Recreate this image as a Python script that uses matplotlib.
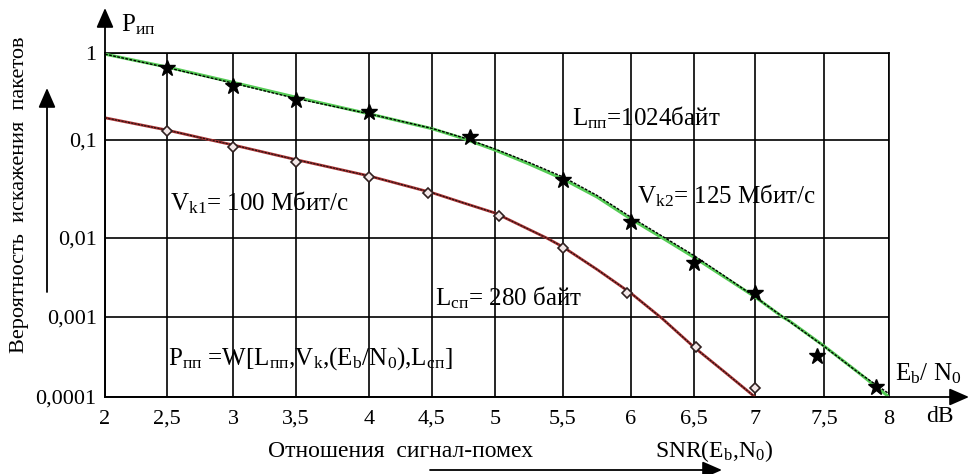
import numpy as np
import matplotlib
matplotlib.use("Agg")
import matplotlib.pyplot as plt
from matplotlib.ticker import FixedLocator, NullLocator

# --- values ---
x_ticks = [2, 2.5, 3, 3.5, 4, 4.5, 5, 5.5, 6, 6.5, 7, 7.5, 8]
x_tick_labels = ["2", "2,5", "3", "3,5", "4", "4,5", "5", "5,5", "6", "6,5", "7", "7,5", "8"]
y_ticks = [0.0001, 0.001, 0.01, 0.1, 1]
y_tick_labels = ["0,0001", "0,001", "0,01", "0,1", "1"]

# Vk2 = 125 Мбит/с (upper curve)
snr_meas2 = [2.5, 3, 3.5, 4, 4.8, 5.5, 6, 6.5, 7, 7.45, 7.9]
p_meas2 = [0.67, 0.42, 0.29, 0.21, 0.108, 0.039, 0.0146, 0.0048, 0.0020, 0.00033, 0.000133]
snr_fit2 = [2, 2.5, 3, 3.5, 4, 4.5, 4.75, 5, 5.25, 5.5, 5.75, 6, 6.25, 6.5, 6.75, 7, 7.2, 7.25,
            7.5, 7.75, 8]
p_fit2_green = [0.97, 0.69, 0.46, 0.31, 0.2, 0.135, 0.104, 0.079, 0.0569, 0.040, 0.0262, 0.0156,
                0.010, 0.0057, 0.0032, 0.0018, 0.001, 0.00089, 0.000434, 0.000211, 0.0001]
p_fit2_black = [0.97, 0.68, 0.45, 0.30, 0.2, 0.136, 0.106, 0.081, 0.059, 0.042, 0.0272, 0.0163,
                0.0104, 0.006, 0.0033, 0.0018, 0.00101, 0.00088, 0.00043, 0.00021, 0.00011]

# Vk1 = 100 Мбит/с (lower curve)
snr_meas1 = [2.5, 3, 3.5, 4, 4.47, 5.03, 5.5, 5.97, 6.52, 7]
p_meas1 = [0.127, 0.085, 0.060, 0.042, 0.029, 0.0168, 0.0075, 0.0020, 0.00042, 0.00013]
snr_fit1 = [2, 2.5, 2.83, 3, 3.5, 4, 4.5, 4.75, 5, 5.38, 5.5, 5.75, 6, 6.25, 6.5, 6.75, 7]
p_fit1 = [0.18, 0.13, 0.1, 0.089, 0.063, 0.043, 0.029, 0.0228, 0.018, 0.010, 0.0077,
          0.0040, 0.0020, 0.00095, 0.00042, 0.000206, 0.0001]

# hand drawn grid -> uneven spacing (pixels inside the axes box)
GX = [0, 62, 128, 191, 264, 327, 390, 458, 526, 589, 650, 719, 784]
GY = [0, 80, 159, 257, 344]
DEC = [-4, -3, -2, -1, 0]


def fx(v):
    return np.interp(v, x_ticks, GX)


def fx_inv(p):
    return np.interp(p, GX, x_ticks)


def fy(v):
    return np.interp(np.log10(np.maximum(v, 1e-12)), DEC, GY)


def fy_inv(p):
    return 10.0 ** np.interp(p, GY, DEC)


plt.rcParams["font.family"] = ["Liberation Serif", "DejaVu Serif"]
plt.rcParams["mathtext.fontset"] = "custom"
plt.rcParams["mathtext.rm"] = "Liberation Serif"
plt.rcParams["mathtext.it"] = "Liberation Serif:italic"

fig = plt.figure(figsize=(9.7, 4.74), dpi=100)
ax = fig.add_axes([105 / 970, 1 - 397 / 474, 784 / 970, 344 / 474])
ax.set_xscale("function", functions=(fx, fx_inv))
ax.set_yscale("function", functions=(fy, fy_inv))

ax.plot(snr_fit2, p_fit2_green, color="#55cc55", lw=2.2, zorder=3)
ax.plot(snr_fit2, p_fit2_black, color="black", lw=1.0, ls=(0, (2, 1)), zorder=4)
ax.plot(snr_meas2, p_meas2, ls="none", marker="*", ms=12, color="black", zorder=5)

ax.plot(snr_fit1, p_fit1, color="#a83232", lw=2.0, zorder=3)
ax.plot(snr_fit1, p_fit1, color="#201010", lw=0.8, ls=(0, (2, 1)), zorder=4)
ax.plot(snr_meas1, p_meas1, ls="none", marker="D", ms=5, mfc="#f4e8e8", mec="#302020", mew=1.2, zorder=5)

ax.set_xlim(2, 8)
ax.set_ylim(0.0001, 1)
ax.xaxis.set_major_locator(FixedLocator(x_ticks))
ax.xaxis.set_minor_locator(NullLocator())
ax.set_xticklabels(x_tick_labels)
ax.yaxis.set_major_locator(FixedLocator(y_ticks))
ax.yaxis.set_minor_locator(NullLocator())
ax.set_yticklabels(y_tick_labels)
ax.tick_params(axis="x", length=0, pad=9, labelsize=16)
ax.tick_params(axis="y", length=0, pad=6, labelsize=16)
ax.grid(True, color="black", lw=1.2)
for s in ax.spines.values():
    s.set_linewidth(1.2)


def P(x, y):
    # picture pixels -> axes fraction
    return ((x - 105) / 784, (397 - y) / 344)


def arrow(x0, y0, x1, y1):
    ax.annotate("", xy=P(x1, y1), xytext=P(x0, y0), xycoords="axes fraction",
                textcoords="axes fraction", annotation_clip=False,
                arrowprops=dict(arrowstyle="-|>,head_length=0.8,head_width=0.35",
                                color="black", lw=1.3, mutation_scale=15,
                                shrinkA=0, shrinkB=0))


def label(x, y, s, size=18, **kw):
    ax.text(*P(x, y), s, transform=ax.transAxes, fontsize=size,
            va="baseline", ha="left", clip_on=False, **kw)


arrow(105, 397, 105, 8)
arrow(105, 397, 969, 397)
arrow(47, 292, 47, 88)
arrow(430, 470, 722, 470)

label(121, 31, r"P$_{\mathrm{ип}}$")
label(572, 125, r"L$_{\mathrm{пп}}$=1024байт")
label(170, 210, r"V$_{\mathrm{k1}}$= 100 Мбит/с")
label(637, 203, r"V$_{\mathrm{k2}}$= 125 Мбит/с")
label(435, 305, r"L$_{\mathrm{сп}}$= 280 байт")
label(168, 365, r"P$_{\mathrm{пп}}$ =W[L$_{\mathrm{пп}}$,V$_{\mathrm{k}}$,(E$_{\mathrm{b}}$/N$_{\mathrm{0}}$),L$_{\mathrm{сп}}$]")
label(895, 380, r"E$_{\mathrm{b}}$/ N$_{\mathrm{0}}$")
label(926, 422, "dB", size=17)
label(268, 457, "Отношения  сигнал-помех", size=17)
label(655, 457, r"SNR(E$_{\mathrm{b}}$,N$_{\mathrm{0}}$)", size=17)
ax.text(*P(20, 195), "Вероятность  искажения  пакетов", transform=ax.transAxes,
        fontsize=16, rotation=90, ha="center", va="center", clip_on=False)

fig.savefig("out.png", dpi=100)
